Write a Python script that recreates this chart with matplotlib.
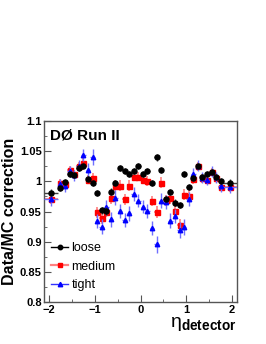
import matplotlib
matplotlib.use("Agg")
import matplotlib.pyplot as plt
import numpy as np
from matplotlib.ticker import MultipleLocator
from matplotlib.lines import Line2D

plt.rcParams['font.family'] = ['Liberation Sans', 'DejaVu Sans']
plt.rcParams['mathtext.fontset'] = 'custom'
plt.rcParams['mathtext.rm'] = 'Liberation Sans'
plt.rcParams['mathtext.it'] = 'Liberation Sans:italic'
plt.rcParams['mathtext.bf'] = 'Liberation Sans:bold'

# bin centres (edge bins are wider)
eta = [-1.96, -1.75, -1.65, -1.55, -1.45, -1.35, -1.25, -1.15, -1.05, -0.95,
       -0.85, -0.75, -0.65, -0.55, -0.45, -0.35, -0.25, -0.15, -0.05, 0.05,
       0.15, 0.25, 0.35, 0.45, 0.55, 0.65, 0.75, 0.85, 0.95, 1.05,
       1.15, 1.25, 1.35, 1.45, 1.55, 1.65, 1.75, 1.95]
eta_err = [0.16] + [0.05] * 36 + [0.16]

loose = [0.981, 0.989, 0.999, 1.012, 1.010, 1.023, 1.025, 1.004, 0.997, 0.981,
         0.952, 0.951, 0.983, 0.998, 1.022, 1.017, 1.012, 1.018, 1.025, 1.012,
         1.017, 0.998, 1.040, 1.019, 0.971, 0.982, 0.965, 0.961, 1.013, 0.990,
         1.005, 1.025, 1.007, 1.012, 1.016, 1.007, 1.001, 0.998]
loose_err = [0.006, 0.005, 0.005, 0.005, 0.005, 0.005, 0.005, 0.005, 0.005, 0.005,
             0.006, 0.006, 0.006, 0.005, 0.005, 0.005, 0.005, 0.005, 0.005, 0.005,
             0.005, 0.005, 0.006, 0.005, 0.005, 0.005, 0.005, 0.005, 0.005, 0.005,
             0.005, 0.005, 0.005, 0.005, 0.005, 0.005, 0.005, 0.006]

medium = [0.970, 0.997, 0.996, 1.019, 1.012, 1.025, 1.031, 1.003, 1.006, 0.949,
          0.939, 0.950, 0.972, 0.993, 0.993, 0.970, 0.993, 1.008, 1.008, 1.003,
          1.001, 0.967, 0.950, 0.998, 0.969, 0.972, 0.951, 0.927, 0.978, 0.976,
          1.004, 1.025, 1.005, 1.003, 1.016, 1.006, 0.991, 0.990]
medium_err = [0.008, 0.007, 0.007, 0.007, 0.007, 0.007, 0.007, 0.008, 0.008, 0.009,
              0.010, 0.009, 0.009, 0.009, 0.009, 0.009, 0.009, 0.008, 0.008, 0.008,
              0.008, 0.008, 0.010, 0.009, 0.009, 0.009, 0.009, 0.010, 0.009, 0.009,
              0.008, 0.007, 0.007, 0.007, 0.007, 0.007, 0.007, 0.008]

tight = [0.970, 0.995, 0.992, 1.017, 1.010, 1.026, 1.043, 1.019, 1.041, 0.934,
         0.925, 0.957, 0.937, 0.973, 0.951, 0.936, 0.947, 0.979, 0.968, 0.958,
         0.951, 0.923, 0.896, 0.968, 0.966, 0.935, 0.943, 0.919, 0.924, 0.971,
         1.012, 1.026, 1.006, 1.003, 1.016, 1.007, 0.992, 0.991]
tight_err = [0.010, 0.009, 0.009, 0.009, 0.009, 0.009, 0.010, 0.011, 0.013, 0.012,
             0.013, 0.012, 0.013, 0.012, 0.012, 0.012, 0.012, 0.011, 0.011, 0.011,
             0.011, 0.012, 0.014, 0.012, 0.012, 0.013, 0.012, 0.013, 0.013, 0.012,
             0.011, 0.009, 0.009, 0.009, 0.009, 0.009, 0.009, 0.010]

series_labels = ['loose', 'medium', 'tight']

fig = plt.figure(figsize=(2.66, 3.44), dpi=100)
ax = fig.add_axes([0.167, 0.122, 0.723, 0.526])

ax.errorbar(eta, tight, yerr=tight_err, xerr=eta_err, fmt='^', color='#0000ff',
            ecolor='#6f6fff', elinewidth=1.0, markersize=3.2, capsize=0, zorder=3)
ax.errorbar(eta, medium, yerr=medium_err, xerr=eta_err, fmt='s', color='#ff0000',
            ecolor='#ff8080', elinewidth=1.2, markersize=3.6, capsize=0, zorder=2)
ax.errorbar(eta, loose, yerr=loose_err, xerr=eta_err, fmt='o', color='black',
            ecolor='#404040', elinewidth=1.0, markersize=3.6, capsize=0, zorder=4)

ax.set_xlim(-2.1, 2.1)
ax.set_ylim(0.8, 1.1)
ax.xaxis.set_major_locator(MultipleLocator(1))
ax.xaxis.set_minor_locator(MultipleLocator(0.5))
ax.yaxis.set_minor_locator(MultipleLocator(0.025))
ax.set_yticks([0.8, 0.85, 0.9, 0.95, 1.0, 1.05, 1.1])
ax.set_yticklabels(['0.8', '0.85', '0.9', '0.95', '1', '1.05', '1.1'])
ax.tick_params(axis='both', which='both', direction='in', top=False, right=False,
               labelsize=8, colors='#555555', labelcolor='black', pad=2)
ax.tick_params(which='major', length=5)
ax.tick_params(which='minor', length=2.5)
for lab in ax.get_xticklabels() + ax.get_yticklabels():
    lab.set_fontweight('bold')
for s in ax.spines.values():
    s.set_color('#555555')
    s.set_linewidth(1.0)

ax.set_ylabel('Data/MC correction', fontsize=11.5, fontweight='bold', labelpad=2)
ax.set_xlabel(r'$\mathrm{η}_{\mathbf{detector}}$', fontsize=14, loc='right', labelpad=0)

ax.text(0.03, 0.96, 'DØ Run II', transform=ax.transAxes, fontsize=11,
        fontweight='bold', va='top', ha='left')

handles = [
    Line2D([], [], color='black', lw=1.0, marker='o', markersize=3.2,
           markerfacecolor='black', markeredgecolor='black'),
    Line2D([], [], color='#ff8080', lw=1.6, marker='s', markersize=3.4,
           markerfacecolor='#ff0000', markeredgecolor='#ff0000'),
    Line2D([], [], color='#3333ff', lw=1.0, marker='^', markersize=3.2,
           markerfacecolor='#0000ff', markeredgecolor='#0000ff'),
]
ax.legend(handles, series_labels,
          loc='lower left', frameon=False, fontsize=9, handlelength=1.4,
          handletextpad=0.25, labelspacing=0.5, borderaxespad=0.2,
          bbox_to_anchor=(-0.005, 0.02))

fig.savefig('out.png', dpi=100)
